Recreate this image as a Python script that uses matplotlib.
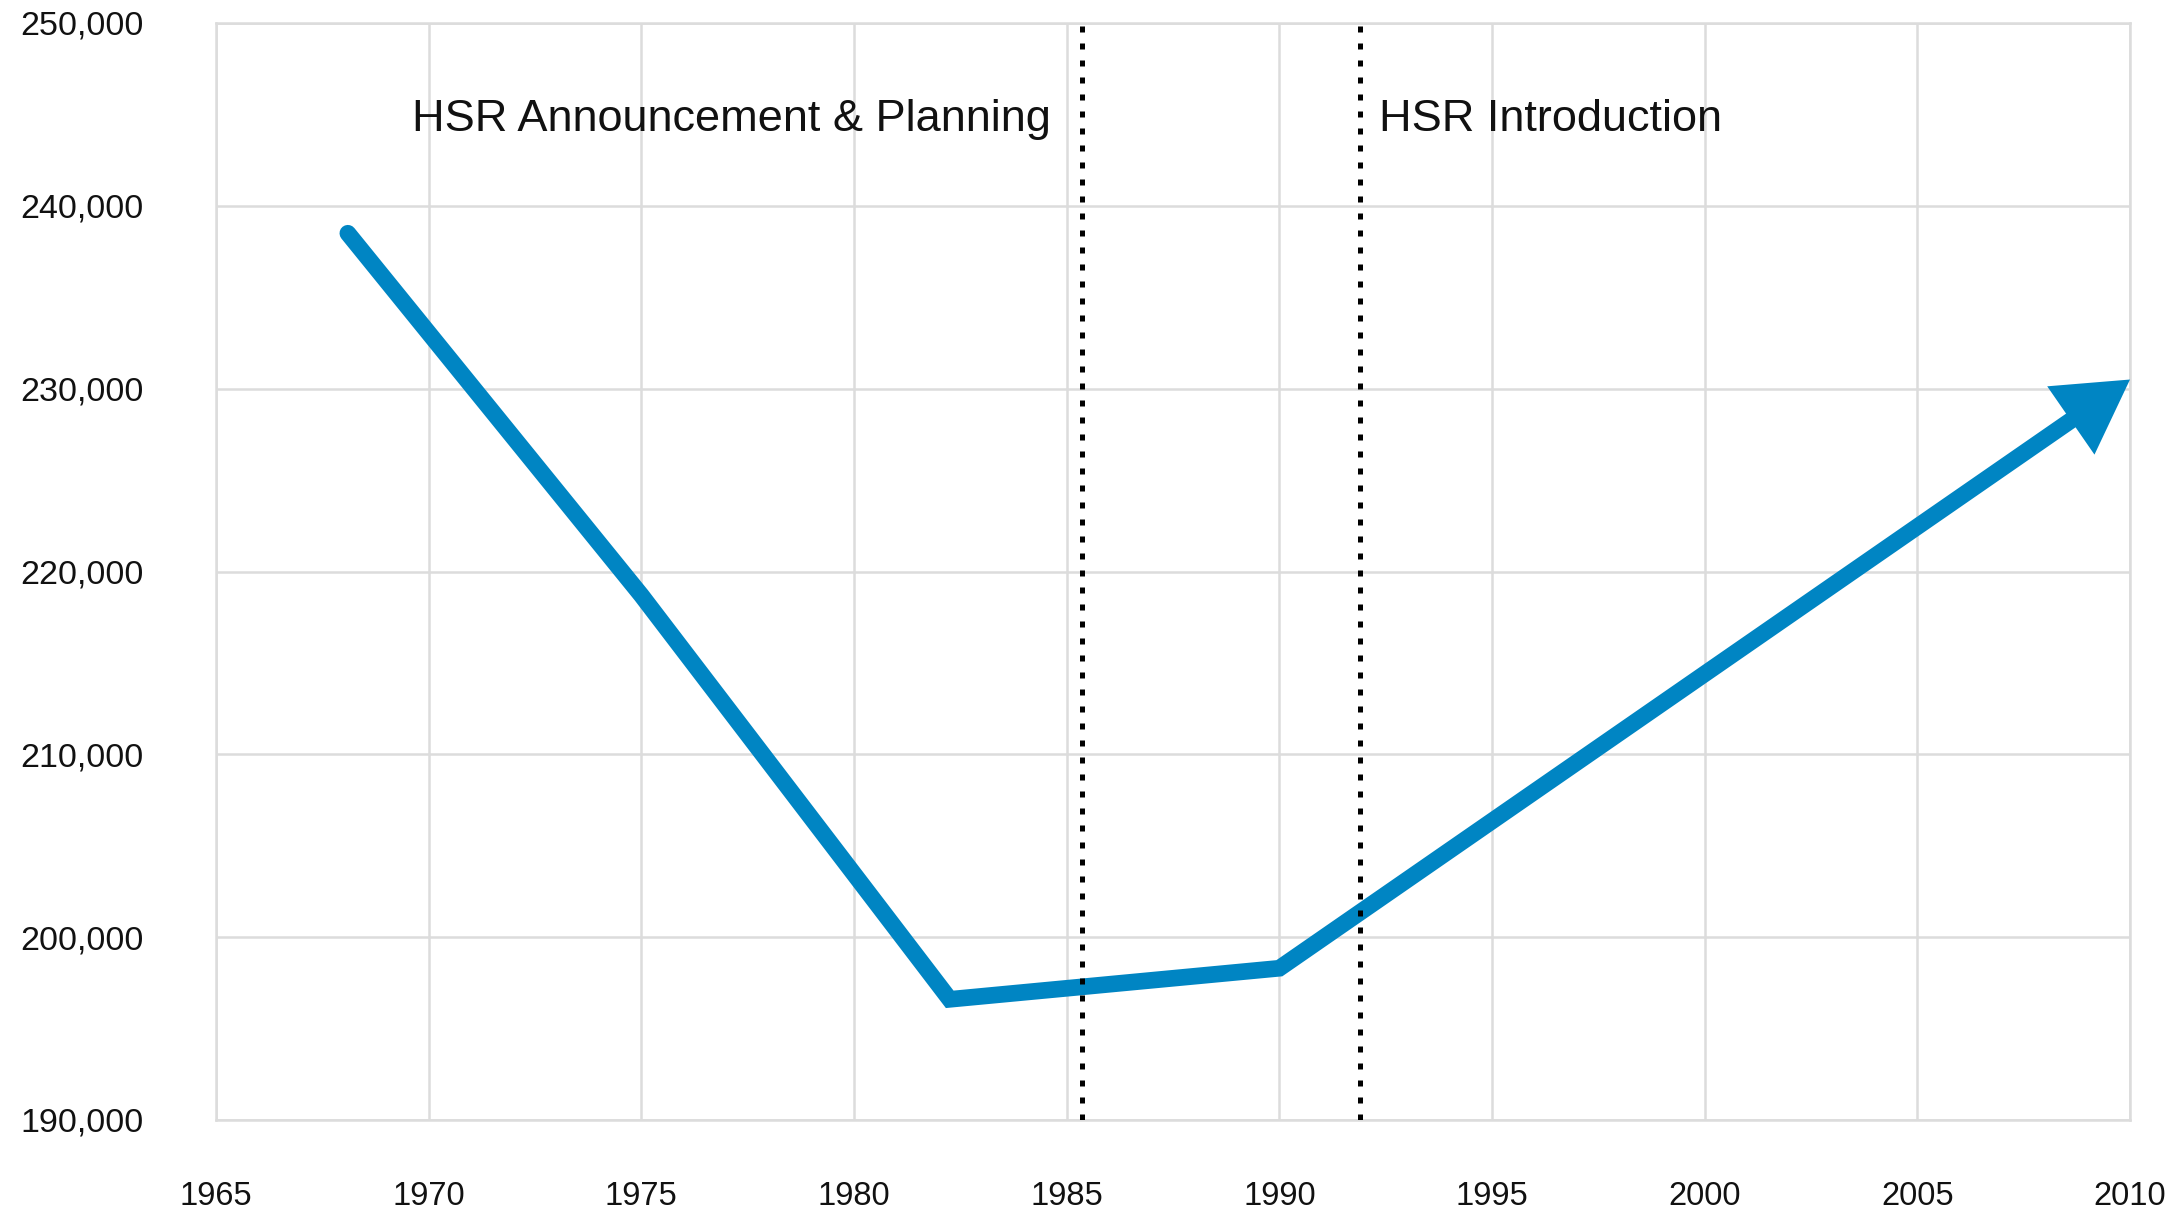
import numpy as np
import matplotlib.pyplot as plt

# commuter counts
years = [1968.1, 1975.0, 1982.25, 1990.0, 2010.0]
commuters = [238500, 218700, 196600, 198300, 230500]

x_ticks = [1965, 1970, 1975, 1980, 1985, 1990, 1995, 2000, 2005, 2010]
y_ticks = [190000, 200000, 210000, 220000, 230000, 240000, 250000]

phase_years = [1985.35, 1991.9]
phase_labels = ['HSR Announcement & Planning', 'HSR Introduction']
label_x = [1969.6, 1992.35]

blue = '#0085c3'
grid_col = '#dcdcdc'

plt.rcParams['font.family'] = ['Liberation Sans', 'DejaVu Sans']

W, H = 2179, 1214
fig = plt.figure(figsize=(W / 100, H / 100), dpi=100)
ax = fig.add_axes([216 / W, 1 - 1120 / H, (2130 - 216) / W, (1120 - 23) / H])
ax.set_xlim(1965, 2010)
ax.set_ylim(190000, 250000)
ax.set_xticks(x_ticks)
ax.set_yticks(y_ticks)
ax.set_yticklabels([f'{v:,}' for v in y_ticks])
ax.grid(True, color=grid_col, lw=1.8)
ax.set_axisbelow(True)
for s in ax.spines.values():
    s.set_color(grid_col)
    s.set_linewidth(1.8)
ax.tick_params(length=0, labelsize=23.5, colors='#111111')
ax.tick_params(axis='y', pad=52, labelsize=24.5)
ax.tick_params(axis='x', pad=44)

# shorten the last segment so the arrow head covers its end
tip = ax.transData.transform((years[-1], commuters[-1]))
prev = ax.transData.transform((years[-2], commuters[-2]))
u = (tip - prev) / np.hypot(*(tip - prev))
head_len = 72.0
stop = ax.transData.inverted().transform(tip - u * head_len * 0.6)

ax.plot(years[:-1] + [stop[0]], commuters[:-1] + [stop[1]], color=blue, lw=12,
        solid_joinstyle='miter', solid_capstyle='round', zorder=3)
pt = 100 / 72
ax.annotate('', xy=(years[-1], commuters[-1]), xytext=(years[-2], commuters[-2]),
            arrowprops=dict(arrowstyle=f'-|>,head_length={head_len / pt / 10:.2f},'
                                       f'head_width={41.5 / pt / 10:.2f}',
                            mutation_scale=10, lw=0, color=blue,
                            shrinkA=0, shrinkB=0),
            annotation_clip=False, zorder=3)

for yr in phase_years:
    ax.axvline(yr, color='black', lw=3.6, linestyle=(0, (1.2, 2.2)), zorder=4)

for lx, txt in zip(label_x, phase_labels):
    ax.text(lx, 244070, txt, fontsize=32.5, ha='left', va='baseline', color='#111111')

fig.savefig('out.png', dpi=100)
